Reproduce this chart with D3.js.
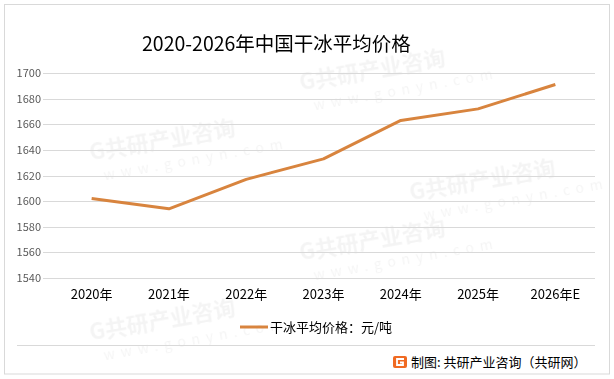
<!doctype html>
<html lang="zh">
<head>
<meta charset="utf-8">
<title>2020-2026年中国干冰平均价格</title>
<script src="https://d3js.org/d3.v7.min.js"></script>
<style>
  body { margin: 0; background: #fff; }
  svg text { font-family: "Noto Sans CJK SC", "Noto Sans", sans-serif; }
</style>
</head>
<body>
<div id="chart"></div>
<script>
// data
var years = ["2020年", "2021年", "2022年", "2023年", "2024年", "2025年", "2026年E"];
var prices = [1602, 1594, 1617, 1633, 1663, 1672, 1691];
var yTicks = [1540, 1560, 1580, 1600, 1620, 1640, 1660, 1680, 1700];
var seriesName = "干冰平均价格：元/吨";

var width = 614, height = 379;
var plotLeft = 53, plotRight = 594, plotTop = 73, plotBottom = 278;

var svg = d3.select("#chart").append("svg")
  .attr("width", width)
  .attr("height", height);

// outer frame
svg.append("rect")
  .attr("x", 4.5).attr("y", 4.5)
  .attr("width", 605).attr("height", 369.5)
  .attr("fill", "#fff")
  .attr("stroke", "#d9d9d9");

// faint watermark tiles
var wm = svg.append("g").attr("fill", "#000").attr("opacity", 0.045);
[[150, 150], [360, 80], [360, 250], [150, 330], [470, 190]].forEach(function(p) {
  var t = wm.append("g").attr("transform", "translate(" + p[0] + "," + p[1] + ") rotate(-10)");
  t.append("text").attr("x", -60).attr("y", 0)
    .attr("font-size", 22).attr("font-weight", "bold").text("G共研产业咨询");
  t.append("text").attr("x", -50).attr("y", 22)
    .attr("font-size", 14).attr("letter-spacing", 6).text("www.gonyn.com");
});

// title
svg.append("text")
  .attr("x", 142).attr("y", 51)
  .attr("font-size", 19.5)
  .attr("fill", "#000")
  .text("2020-2026年中国干冰平均价格");

var x = d3.scaleBand()
  .domain(years)
  .range([plotLeft, plotRight]);

var y = d3.scaleLinear()
  .domain([1540, 1700])
  .range([plotBottom, plotTop]);

// gridlines
svg.append("g")
  .selectAll("line")
  .data(yTicks)
  .enter().append("line")
  .attr("x1", 43).attr("x2", 595)
  .attr("y1", function(d) { return Math.round(y(d)) + 0.5; })
  .attr("y2", function(d) { return Math.round(y(d)) + 0.5; })
  .attr("stroke", "#d9d9d9");

// y axis labels
var yAxis = d3.axisLeft(y).tickValues(yTicks).tickSize(0).tickPadding(0).tickFormat(d3.format("d"));
var ya = svg.append("g")
  .attr("transform", "translate(41,0)")
  .call(yAxis);
ya.select(".domain").remove();
ya.selectAll("text").attr("font-size", 11).attr("fill", "#595959");

// x axis labels
var xAxis = d3.axisBottom(x).tickSize(0).tickPadding(0);
var xa = svg.append("g")
  .attr("transform", "translate(0,290)")
  .call(xAxis);
xa.select(".domain").remove();
xa.selectAll("text").attr("font-size", 13).attr("fill", "#000");

// line
var line = d3.line()
  .x(function(d, i) { return x(years[i]) + x.bandwidth() / 2; })
  .y(function(d) { return y(d); });

svg.append("path")
  .datum(prices)
  .attr("d", line)
  .attr("fill", "none")
  .attr("stroke", "#d8843e")
  .attr("stroke-width", 3)
  .attr("stroke-linejoin", "round");

// legend
svg.append("line")
  .attr("x1", 240).attr("x2", 268)
  .attr("y1", 327).attr("y2", 327)
  .attr("stroke", "#d8843e").attr("stroke-width", 3);
svg.append("text")
  .attr("x", 270).attr("y", 332)
  .attr("font-size", 13).attr("fill", "#000")
  .text(seriesName);

// footer
svg.append("line")
  .attr("x1", 17).attr("x2", 595)
  .attr("y1", 345.5).attr("y2", 345.5)
  .attr("stroke", "#d9d9d9");

var logo = svg.append("g").attr("transform", "translate(393,356)");
logo.append("rect").attr("width", 14).attr("height", 12).attr("rx", 2).attr("fill", "#f06a22");
logo.append("path").attr("d", "M11 3 H4 V9 H10 V6.5 H7").attr("fill", "none").attr("stroke", "#fff").attr("stroke-width", 1.8);

svg.append("text")
  .attr("x", 411).attr("y", 367)
  .attr("font-size", 13).attr("fill", "#000")
  .text("制图: 共研产业咨询（共研网）");
</script>
</body>
</html>
